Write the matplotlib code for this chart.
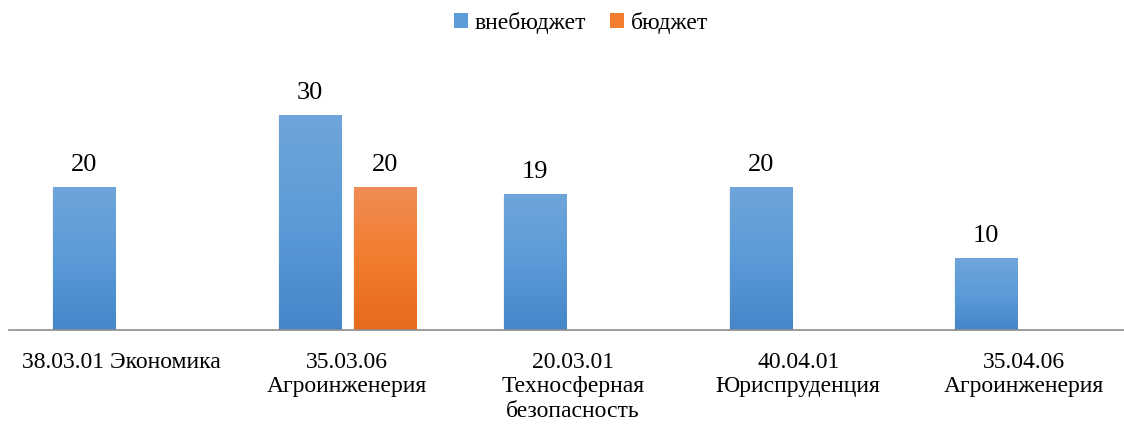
import numpy as np
import matplotlib.pyplot as plt
from matplotlib.colors import LinearSegmentedColormap

plt.rcParams['font.family'] = ['Liberation Serif', 'DejaVu Serif']

categories = ["38.03.01 Экономика", "35.03.06\nАгроинженерия", "20.03.01\nТехносферная\nбезопасность",
              "40.04.01\nЮриспруденция", "35.04.06\nАгроинженерия"]
vnebudzhet = [20, 30, 19, 20, 10]
budzhet = [None, 20, None, None, None]

fig = plt.figure(figsize=(11.24, 4.25), dpi=100)
ax = fig.add_axes([9 / 1124, 95 / 425, 1115 / 1124, 250.6 / 425])

x = np.arange(len(categories))
w = 0.275
off = 0.166

blue_cmap = LinearSegmentedColormap.from_list("b", ["#4586c9", "#5b9bd8", "#6fa5da"])
orange_cmap = LinearSegmentedColormap.from_list("o", ["#e76a1b", "#f27d2e", "#f08c55"])
grad = np.linspace(0, 1, 256).reshape(-1, 1)


def draw_bars(xs, vals, cmap, label):
    xs2 = [xx for xx, v in zip(xs, vals) if v is not None]
    vs2 = [v for v in vals if v is not None]
    bars = ax.bar(xs2, vs2, w, color=cmap(0.5), label=label, zorder=2)
    for b, v in zip(bars, vs2):
        # soft shadow
        ax.bar(b.get_x() + b.get_width() / 2, v, w + 0.01, bottom=-0.3,
               color="#000000", alpha=0.05, zorder=1.5, linewidth=0)
        im = ax.imshow(grad, cmap=cmap, origin="lower", aspect="auto",
                       extent=[b.get_x(), b.get_x() + b.get_width(), 0, v], zorder=2.5)
        im.set_clip_path(b)
        ax.annotate(str(v), (b.get_x() + b.get_width() / 2, v), xytext=(0, 8),
                    textcoords="offset points", ha="center", va="bottom", fontsize=19)
    return bars


draw_bars(x - off, vnebudzhet, blue_cmap, "внебюджет")
draw_bars(x + off, budzhet, orange_cmap, "бюджет")

ax.set_xlim(-0.5, -0.5 + 1115 / 225.5)
ax.set_ylim(0, 35)
ax.set_xticks(x)
ax.set_xticklabels(categories, fontsize=17, linespacing=1.2)
ax.tick_params(axis="x", length=0, pad=16)
ax.set_yticks([])
for s in ["top", "right", "left"]:
    ax.spines[s].set_visible(False)
ax.spines["bottom"].set_color("#8c8c8c")
ax.spines["bottom"].set_linewidth(1.2)
ax.spines["bottom"].set_zorder(3)

leg = fig.legend(loc="center", bbox_to_anchor=(581 / 1124, 1 - 23 / 425), ncol=2, frameon=False,
                 fontsize=17, handlelength=0.6, handleheight=0.6, handletextpad=0.3, columnspacing=1.0)

fig.savefig("out.png", dpi=100)
